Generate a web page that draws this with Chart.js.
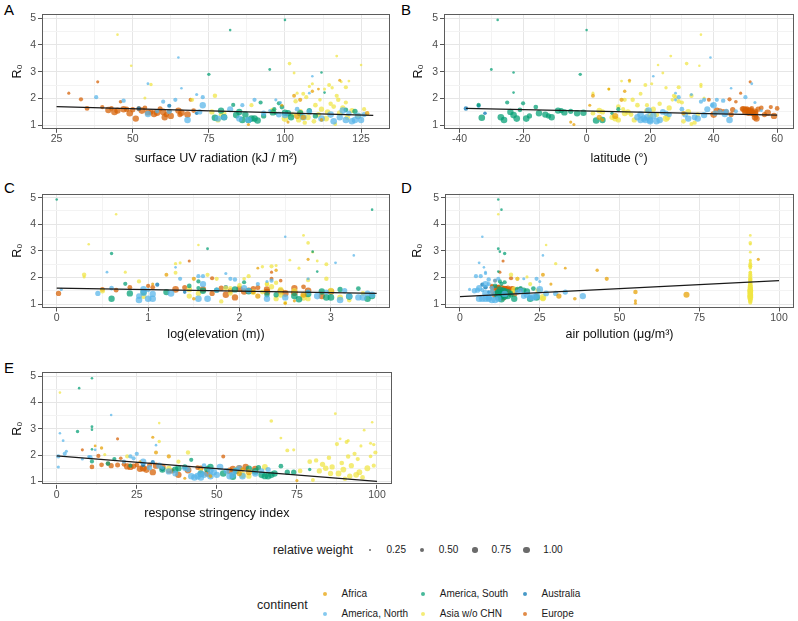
<!DOCTYPE html>
<html>
<head>
<meta charset="utf-8">
<script src="https://cdn.jsdelivr.net/npm/chart.js@4.4.0/dist/chart.umd.min.js"></script>
<style>
  body { margin: 0; background: #fff; font-family: "Liberation Sans", Arial, sans-serif; }
  #page { position: relative; width: 798px; height: 621px; overflow: hidden; }
  canvas { position: absolute; }
  .tag { position: absolute; font-size: 15px; color: #000; line-height: 1; }
  .lg { position: absolute; font-size: 10px; color: #1a1a1a; line-height: 1; white-space: nowrap; transform: translateY(-50%); font-weight: normal; }
  .lgTitle { font-size: 12.5px; color: #222; }
  .dot { position: absolute; border-radius: 50%; }
</style>
</head>
<body>
<div id="page">
  <div class="tag" style="left:4px;top:2px">A</div>
  <div class="tag" style="left:401px;top:2px">B</div>
  <div class="tag" style="left:4px;top:180px">C</div>
  <div class="tag" style="left:401px;top:180px">D</div>
  <div class="tag" style="left:4px;top:360px">E</div>
  <canvas id="chartA" width="398" height="170" style="left:0;top:0"></canvas>
  <canvas id="chartB" width="400" height="170" style="left:398px;top:0"></canvas>
  <canvas id="chartC" width="398" height="175" style="left:0;top:170px"></canvas>
  <canvas id="chartD" width="400" height="175" style="left:398px;top:170px"></canvas>
  <canvas id="chartE" width="398" height="180" style="left:0;top:345px"></canvas>
  <div id="legend"></div>
</div>
<script>
// each row: R0, relative weight, UV, latitude, log elevation, air pollution, stringency
const africa = [
    [2.68, 0.30, 118, 13.5, 2.75, 93.5, 30],
    [2.27, 0.35, 109, 12, 2.40, 43, 14],
    [1.95, 0.50, 105, 11, 1.50, 46, 35],
    [2.10, 0.45, 103, 2, 1.20, 26, 31],
    [1.75, 0.30, 99, 1, 1.05, 28.5, 26],
    [1.45, 0.55, 127, 30.5, 2.15, 55, 58],
    [1.35, 0.85, 104, 9, 2.70, 71, 60],
    [1.30, 0.70, 106, 4, 2.20, 31, 57],
    [1.12, 0.30, 101, -5, 2.60, 55, 40],
    [1.03, 0.30, 88, -4, 2.50, 55, 75],
    [1.20, 0.40, 112, 5, 1.50, 36, 48],
    [2.35, 0.25, 111, 7, 2.20, 33, 12]
];

const americaNorth = [
    [3.53, 0.20, 65, 39, 2.50, 7, 17],
    [2.83, 0.20, 109, 21, 3.25, 26, 1],
    [2.55, 0.25, 55, 52, 3.05, 6, 2],
    [2.38, 0.20, 66, 45.5, 1.30, 7.5, 31],
    [2.05, 0.50, 38, 50, 1.60, 6.5, 2.5],
    [1.92, 0.55, 47, 43, 1.95, 9, 10.5],
    [1.88, 0.50, 60, 36, 2.35, 11, 24],
    [1.95, 0.50, 64, 41, 1.35, 24, 0.5],
    [2.15, 0.30, 71, 33, 1.85, 8, 3],
    [2.05, 0.50, 73, 29, 1.55, 5, 25],
    [1.95, 0.30, 97, 28, 2.75, 20, 10],
    [1.95, 0.50, 90, 37, 1.90, 12, 23],
    [1.75, 0.90, 73, 40, 1.60, 8, 27],
    [1.75, 0.50, 86, 39.5, 2.20, 9, 21],
    [1.60, 0.85, 82, 38, 2.05, 6, 32],
    [1.60, 0.60, 104, 30, 0.60, 10, 46],
    [1.52, 0.50, 58, 47, 1.00, 7, 33],
    [1.52, 0.70, 62, 44, 1.75, 5.5, 29],
    [1.50, 0.70, 72, 42, 3.15, 4.5, 40],
    [1.20, 0.95, 68, 45, 1.05, 8, 44],
    [1.25, 0.90, 78, 35, 3.30, 9, 46],
    [1.30, 0.80, 80, 34, 0.90, 20, 37],
    [1.25, 0.90, 85, 32, 2.50, 22, 50],
    [1.20, 0.95, 88, 20, 1.00, 6, 48],
    [1.40, 0.80, 98, 31, 3.40, 27, 53],
    [1.30, 0.95, 106, 19, 2.85, 24, 45],
    [1.50, 0.80, 108, 24, 2.10, 19, 57],
    [1.25, 0.95, 112, 18, 3.35, 23, 55],
    [1.40, 0.95, 115, 17, 1.25, 8, 56],
    [1.15, 0.95, 116, 22, 0.90, 10, 43],
    [1.30, 0.90, 118, 16, 3.20, 38.5, 62],
    [1.20, 0.95, 120, 23, 1.55, 9, 54],
    [1.45, 0.70, 121, 25, 2.95, 33, 66],
    [1.15, 0.95, 122, 20, 3.10, 11, 45],
    [1.20, 0.95, 123, 18.5, 1.65, 7, 58],
    [1.35, 0.95, 124, 21, 3.45, 21, 49],
    [1.20, 0.90, 125, 17, 2.30, 12, 42],
    [1.40, 0.70, 126, 26, 0.45, 30, 64],
    [1.55, 0.95, 119, 19.5, 0.95, 25, 51],
    [1.85, 0.30, 98.5, 53, 2.30, 25, 8],
    [2.20, 0.25, 108, 28, 0.55, 8, 12],
    [1.55, 0.30, 95, 55, 0.05, 3, 0.5],
    [1.38, 0.90, 100, 37, 1.05, 14, 35],
    [1.42, 0.90, 55, 43.5, 0.95, 10, 48],
    [1.45, 0.70, 93, 40.5, 2.75, 18, 41]
];

const americaSouth = [
    [4.93, 0.20, 100, -28, 0.00, 12, 11],
    [4.55, 0.20, 82, 0, 3.45, 13, 7],
    [3.08, 0.25, 95, -30, 1.65, 12, 11],
    [2.97, 0.20, 112, -23, 2.80, 12.5, 11],
    [2.90, 0.35, 75, -2, 0.60, 14, 6.5],
    [2.22, 0.20, 113, -23, 2.85, 12, 11],
    [1.76, 0.50, 83, -34, 0.75, 13, 11],
    [1.28, 0.95, 77, -33, 3.20, 14, 45],
    [1.30, 0.95, 80, -27, 2.60, 13, 52],
    [1.20, 0.95, 86, -26, 3.40, 22, 66],
    [1.85, 0.50, 92, -25, 1.55, 12.5, 18],
    [1.50, 0.90, 85, -24, 1.60, 13.5, 38],
    [1.38, 0.95, 84, -23, 2.75, 11.5, 62],
    [1.25, 0.95, 89, -22, 2.95, 12, 64],
    [1.82, 0.50, 98, -20, 2.05, 14, 42],
    [1.25, 0.95, 90, -19, 3.00, 24, 67],
    [1.35, 0.70, 110, -18, 2.30, 13, 72],
    [1.68, 0.60, 99, -16, 1.45, 11, 16],
    [1.45, 0.90, 101, -15, 1.20, 15, 37],
    [1.40, 0.90, 87, -13, 0.80, 13, 56],
    [1.35, 0.70, 93, -12, 2.40, 16, 74],
    [1.55, 0.90, 79, -9, 1.95, 12.5, 48],
    [1.55, 0.70, 108, -8, 3.10, 18, 40],
    [1.48, 0.90, 96, -7, 2.10, 14, 60],
    [1.52, 0.70, 123, -5, 1.75, 20, 63],
    [1.45, 0.90, 105, -3, 0.95, 12, 33],
    [1.47, 0.90, 100, -1, 2.90, 21, 47],
    [1.18, 0.95, 91, 3, 2.65, 13, 55],
    [1.20, 0.90, 88, 5, 0.60, 17, 65],
    [1.58, 0.60, 120, -21, 3.30, 23, 70],
    [1.30, 0.90, 102, -11, 3.45, 15, 68],
    [1.60, 0.50, 96.5, 10, 1.55, 19, 23],
    [1.45, 0.35, 97, 8, 2.75, 16, 79]
];

const asia = [
    [4.38, 0.20, 45, 36, 0.65, 12, 1],
    [3.22, 0.20, 49.5, 35.5, 1.55, 27, 32],
    [2.52, 0.35, 56, 36, 1.30, 30, 32],
    [2.02, 0.30, 54, 37, 0.30, 21, 15],
    [2.10, 0.55, 77, 33, 0.30, 16, 41],
    [1.95, 0.50, 69.5, 12, 1.75, 18, 22],
    [1.50, 0.70, 76, 5, 0.50, 24.5, 35],
    [1.40, 0.60, 79, 14, 1.90, 13, 45],
    [1.20, 0.70, 78, 10, 2.40, 26, 60],
    [1.25, 0.95, 100, 25, 2.70, 26, 58],
    [1.55, 0.80, 96, 4, 1.45, 17, 65],
    [1.75, 0.50, 89, 19, 2.30, 22, 38],
    [1.45, 0.60, 80, 2, 2.25, 16.5, 56],
    [3.58, 0.25, 117, 26.5, 2.70, 91, 87],
    [3.30, 0.40, 101.5, 31.5, 2.75, 91, 67],
    [3.25, 0.20, 125, 22.5, 0.35, 91, 98.5],
    [2.95, 0.25, 103, 24, 2.80, 91, 96],
    [2.65, 0.25, 121, 11, 2.55, 91, 70],
    [2.62, 0.25, 118.5, 13.5, 2.85, 91, 88.5],
    [2.55, 0.30, 109, 20.5, 1.35, 91, 91],
    [2.50, 0.45, 114.5, 18.5, 2.95, 91, 90.5],
    [2.45, 0.30, 108, 36, 2.40, 91, 98],
    [2.42, 0.50, 120, 29, 2.35, 91, 87.5],
    [2.40, 0.35, 115.5, 25, 2.25, 91, 99],
    [2.35, 0.30, 113, 7, 2.65, 91, 95],
    [2.20, 0.30, 104, 2, 0.75, 91, 74],
    [2.18, 0.45, 106, 17, 1.30, 91, 72],
    [2.10, 0.50, 117, 27.5, 1.65, 91, 99.5],
    [2.05, 0.50, 107, 28, 2.10, 91, 93],
    [1.95, 0.55, 117.5, 14.5, 2.95, 91, 91],
    [1.90, 0.55, 103.5, 29, 2.75, 91, 85],
    [1.85, 0.50, 120, 30, 0.90, 91, 94],
    [1.80, 0.55, 115, 23, 2.40, 91, 81],
    [1.75, 0.60, 110, 16, 2.30, 91, 79],
    [1.70, 0.60, 116, 10, 2.00, 91, 89],
    [1.65, 0.70, 119, 26, 2.35, 91, 83],
    [1.60, 0.70, 112, 21, 1.85, 91, 92],
    [1.55, 0.70, 122, 19, 2.45, 91, 86],
    [1.50, 0.75, 114, 13, 2.60, 91, 84],
    [1.50, 0.80, 105, 32, 3.00, 91, 97],
    [1.45, 0.80, 118, 12, 2.15, 91, 89.5],
    [1.40, 0.70, 111, 22, 1.55, 91, 82],
    [1.35, 0.80, 124, 20, 2.45, 91, 94.5],
    [1.30, 0.80, 107.5, 25.5, 0.95, 91, 88],
    [1.25, 0.80, 113.5, 9, 3.10, 91, 93.5],
    [1.20, 0.70, 104.5, 15, 2.75, 91, 91.5],
    [1.15, 0.60, 109.5, 30.5, 3.20, 91, 95.5],
    [1.10, 0.55, 106.5, 34, 1.80, 91, 90],
    [1.05, 0.45, 116.5, 33, 2.50, 91, 80],
    [1.60, 0.50, 126, 11.5, 1.90, 91, 99],
    [1.40, 0.60, 102.5, 35, 3.35, 91, 76],
    [1.95, 0.40, 111.5, 27, 2.05, 91, 98],
    [1.30, 0.70, 120.5, 8, 1.45, 91, 85.5]
];

const australia = [
    [1.63, 0.55, 52, -38, 1.85, 8, 27],
    [1.73, 0.50, 62, -34, 1.10, 7, 30],
    [1.45, 0.40, 71, -32, 1.40, 9, 33]
];

const europe = [
    [2.62, 0.30, 38.5, 51.5, 1.45, 13.5, 19],
    [2.20, 0.30, 29, 48.5, 2.35, 12.5, 8],
    [1.97, 0.50, 33, 45, 1.70, 16, 13],
    [1.95, 0.45, 69, 38.5, 2.35, 18, 52],
    [1.63, 0.60, 35, 60, 1.05, 10, 14],
    [1.57, 0.90, 42, 50, 2.00, 14, 22],
    [1.63, 0.60, 43, 52, 0.80, 12, 25],
    [1.50, 0.95, 44, 53, 2.10, 13, 27],
    [1.55, 0.90, 45, 51, 1.60, 14.5, 23],
    [1.88, 0.40, 46, 47, 2.45, 11, 20],
    [1.60, 0.90, 47, 49.5, 2.60, 13, 31],
    [1.60, 0.70, 48, 54, 1.80, 15, 17],
    [1.45, 0.95, 49, 52.5, 2.30, 12, 28],
    [1.58, 0.70, 50, 46, 2.15, 16.5, 24],
    [1.25, 0.90, 51, 53.5, 1.95, 13.5, 38],
    [1.62, 0.65, 52, 50.5, 2.20, 11.5, 19],
    [1.55, 0.95, 53, 51.5, 1.30, 14, 33],
    [1.65, 0.60, 54, 55, 2.70, 12, 21],
    [1.48, 0.90, 55, 52, 2.45, 15, 26],
    [1.50, 0.70, 56, 44, 1.90, 17, 45],
    [1.43, 1.00, 57, 53, 2.60, 12.5, 41],
    [1.47, 0.90, 58, 51, 2.05, 13, 55],
    [1.62, 0.65, 59, 49, 1.40, 11, 29],
    [1.50, 0.95, 60, 50, 2.75, 14, 57],
    [1.30, 0.90, 60.5, 53, 2.90, 13, 47],
    [1.40, 0.70, 61, 56, 0.02, 12, 35],
    [1.52, 0.60, 62, 43, 0.65, 18, 44],
    [1.55, 0.90, 65, 41, 2.30, 16, 59],
    [1.40, 0.70, 65.5, 45.5, 1.70, 15.5, 36],
    [1.47, 0.95, 66, 57, 3.00, 10.5, 62],
    [1.40, 0.95, 68, 40, 2.50, 17, 54],
    [1.55, 0.60, 70, 42, 0.50, 19, 11],
    [1.35, 0.90, 62.5, 59, 1.85, 11, 30],
    [1.68, 0.50, 40, 58, 1.00, 10, 16]
];

const continents = ['Africa', 'America, North', 'America, South', 'Asia w/o CHN', 'Australia', 'Europe'];
const continentRows = [africa, americaNorth, americaSouth, asia, australia, europe];
const continentColors = [
    'rgba(230,159,0,0.72)', 'rgba(86,180,233,0.72)', 'rgba(0,158,115,0.72)',
    'rgba(240,228,66,0.72)', 'rgba(0,114,178,0.72)', 'rgba(213,94,0,0.72)'
];
const weightBreaks = [0.25, 0.50, 0.75, 1.00];

// linear fit end points for each panel
const uvFit = [[25, 1.70], [129, 1.37]];
const latFit = [[-38, 1.63], [60, 1.38]];
const elevFit = [[0, 1.60], [3.5, 1.40]];
const pollutionFit = [[0, 1.28], [100, 1.88]];
const stringencyFit = [[0, 1.97], [100, 1.00]];

const uvTicks = [25, 50, 75, 100, 125];
const latTicks = [-40, -20, 0, 20, 40, 60];
const elevTicks = [0, 1, 2, 3];
const pollutionTicks = [0, 25, 50, 75, 100];
const stringencyTicks = [0, 25, 50, 75, 100];
const r0Ticks = [1, 2, 3, 4, 5];

Chart.defaults.font.family = '"Liberation Sans", Arial, sans-serif';

function radiusFor(w) {
    return 0.75 + 2.7 * w;
}

// majors plus the ggplot-style minor breaks in between
function withMinor(majors, min, max) {
    const step = majors[1] - majors[0];
    const all = [];
    if (majors[0] - step / 2 > min) all.push(majors[0] - step / 2);
    majors.forEach((v, i) => {
        all.push(v);
        const mid = v + step / 2;
        if (i < majors.length - 1 || mid < max) all.push(mid);
    });
    return all.filter(v => v >= min && v <= max);
}

const panelBorder = {
    id: 'panelBorder',
    afterDraw(chart) {
        const { ctx, chartArea: a } = chart;
        ctx.save();
        ctx.strokeStyle = '#5c5c5c';
        ctx.lineWidth = 1;
        ctx.strokeRect(Math.round(a.left) + 0.5, Math.round(a.top) + 0.5,
            Math.round(a.right - a.left) - 1, Math.round(a.bottom - a.top) - 1);
        ctx.restore();
    }
};

function axis(min, max, majors, fitSize, horizontal, title, titlePad) {
    const isMajor = v => majors.some(m => Math.abs(m - v) < 1e-9);
    const all = withMinor(majors, min, max);
    return {
        type: 'linear',
        min: min,
        max: max,
        afterBuildTicks: s => { s.ticks = all.map(v => ({ value: v })); },
        afterFit: s => { if (horizontal) s.height = fitSize; else s.width = fitSize; },
        border: { display: false },
        grid: {
            color: c => isMajor(c.tick.value) ? '#E6E6E6' : '#F3F3F3',
            tickColor: c => isMajor(c.tick.value) ? '#555' : 'rgba(0,0,0,0)',
            tickLength: 4,
            lineWidth: 1
        },
        ticks: {
            autoSkip: false,
            maxRotation: 0,
            padding: horizontal ? 0 : 2,
            color: '#4D4D4D',
            font: { size: 10.5 },
            callback: v => isMajor(v) ? String(v) : ''
        },
        title: {
            display: true,
            text: title,
            color: '#111',
            font: { size: 12.5 },
            padding: horizontal ? { top: 0, bottom: titlePad } : { top: titlePad, bottom: 0 }
        }
    };
}

function drawPanel(p) {
    const datasets = [{
        type: 'line',
        data: p.fit.map(([x, y]) => ({ x, y })),
        borderColor: '#1a1a1a',
        borderWidth: 1.3,
        pointRadius: 0,
        showLine: true,
        fill: false,
        order: 0
    }];
    continentRows.forEach((rows, i) => {
        datasets.push({
            label: continents[i],
            data: rows.map(r => ({ x: r[p.col], y: r[0], w: r[1] })),
            backgroundColor: continentColors[i],
            borderWidth: 0,
            pointRadius: c => radiusFor(c.raw.w),
            order: 1
        });
    });

    new Chart(document.getElementById(p.canvas), {
        type: 'scatter',
        data: { datasets },
        options: {
            responsive: false,
            animation: false,
            devicePixelRatio: 1,
            layout: { padding: { top: p.top, right: p.right, left: 0, bottom: 0 } },
            plugins: { legend: { display: false }, tooltip: { enabled: false } },
            scales: {
                x: axis(p.xMin, p.xMax, p.xTicks, p.xHeight, true, p.title, p.xTitlePad),
                y: axis(0.87, 5.15, r0Ticks, p.yWidth, false, 'R₀', p.yTitlePad)
            }
        },
        plugins: [panelBorder]
    });
}

const panels = [
    { canvas: 'chartA', col: 2, xMin: 20.2, xMax: 134.5, xTicks: uvTicks, fit: uvFit,
      title: 'surface UV radiation (kJ / m²)', top: 14, right: 8, yWidth: 42, xHeight: 41.2, yTitlePad: 10, xTitlePad: 4.2 },
    { canvas: 'chartB', col: 3, xMin: -44.9, xMax: 65.3, xTicks: latTicks, fit: latFit,
      title: 'latitude (°)', top: 14, right: 3, yWidth: 46, xHeight: 41.2, yTitlePad: 13, xTitlePad: 4.2 },
    { canvas: 'chartC', col: 4, xMin: -0.161, xMax: 3.646, xTicks: elevTicks, fit: elevFit,
      title: 'log(elevation (m))', top: 23.7, right: 8, yWidth: 42, xHeight: 37.5, yTitlePad: 10, xTitlePad: 3.2 },
    { canvas: 'chartD', col: 5, xMin: -4.7, xMax: 104.7, xTicks: pollutionTicks, fit: pollutionFit,
      title: 'air pollution (μg/m³)', top: 23.7, right: 3, yWidth: 47, xHeight: 37.5, yTitlePad: 12, xTitlePad: 3.2 },
    { canvas: 'chartE', col: 6, xMin: -4.6, xMax: 104.6, xTicks: stringencyTicks, fit: stringencyFit,
      title: 'response stringency index', top: 27.4, right: 6.3, yWidth: 42, xHeight: 40.2, yTitlePad: 10, xTitlePad: 4.2 }
];

panels.forEach(drawPanel);

// legends below the panels
function addText(text, x, y, cls) {
    const d = document.createElement('div');
    d.className = 'lg' + (cls ? ' ' + cls : '');
    d.textContent = text;
    d.style.left = x + 'px';
    d.style.top = y + 'px';
    document.getElementById('legend').appendChild(d);
}

function addDot(cx, cy, r, color) {
    const d = document.createElement('div');
    d.className = 'dot';
    d.style.left = (cx - r) + 'px';
    d.style.top = (cy - r) + 'px';
    d.style.width = d.style.height = (2 * r) + 'px';
    d.style.background = color;
    document.getElementById('legend').appendChild(d);
}

addText('relative weight', 273, 550, 'lgTitle');
const weightDotX = [370, 422.3, 475, 526.7];
weightBreaks.forEach((w, i) => {
    addDot(weightDotX[i], 550, radiusFor(w), 'rgba(50,50,50,0.72)');
    addText(w.toFixed(2), weightDotX[i] + 16.5, 550);
});

addText('continent', 257, 605, 'lgTitle');
const colDotX = [325, 423.3, 525];
const rowY = [594, 614];
continents.forEach((name, i) => {
    const col = Math.floor(i / 2), row = i % 2;
    addDot(colDotX[col], rowY[row], 2.2, continentColors[i]);
    addText(name, colDotX[col] + 16.5, rowY[row]);
});
</script>
</body>
</html>
